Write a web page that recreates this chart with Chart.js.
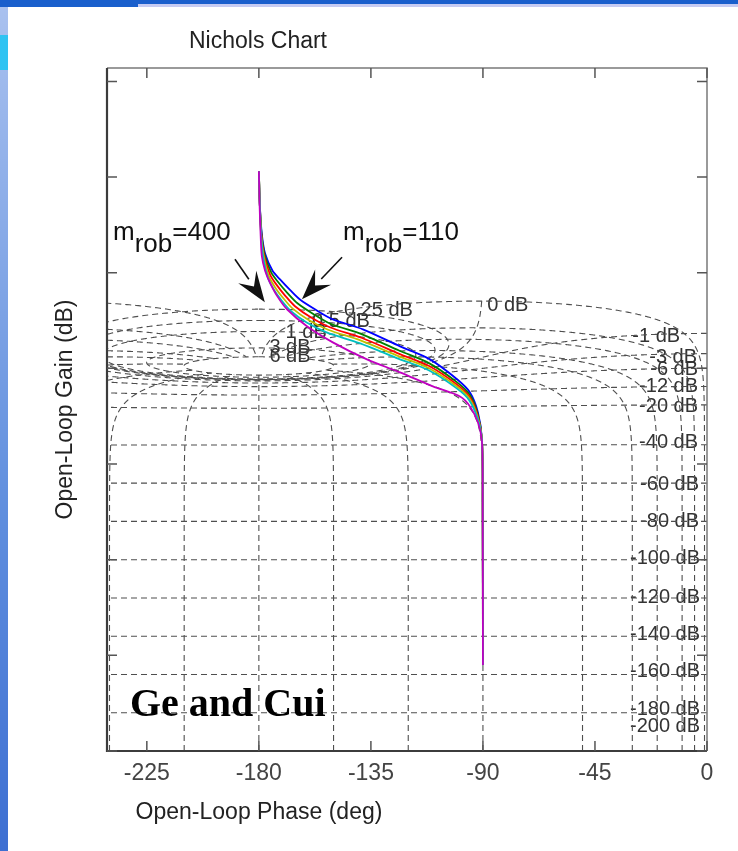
<!DOCTYPE html>
<html>
<head>
<meta charset="utf-8">
<script src="https://cdn.jsdelivr.net/npm/chart.js@4.4.1/dist/chart.umd.min.js"></script>
<style>
  html, body { margin: 0; padding: 0; background: #fff; }
  body { width: 738px; height: 851px; position: relative; overflow: hidden; font-family: "Liberation Sans", Arial, sans-serif; }
  #nichols { position: absolute; left: 0; top: 0; }
  #topbar { position: absolute; left: 0; top: 0; width: 738px; height: 7px; background: linear-gradient(to bottom, #1a5fcc 0, #1a5fcc 4px, #c6cbf2 4px); }
  #topbar-left { position: absolute; left: 0; top: 0; width: 138px; height: 7px; background: #1a5fcc; }
  #leftbar { position: absolute; left: 0; top: 7px; width: 8px; height: 844px; background: linear-gradient(to bottom, #a9c1ef, #5f8ede 60%, #3d6fd2); }
  #leftblock { position: absolute; left: 0; top: 35px; width: 8px; height: 35px; background: #2fc3f2; }
  .txt { position: absolute; white-space: nowrap; color: #222; }
  #title { left: 158px; top: 29px; width: 200px; text-align: center; font-size: 23px; line-height: 23px; }
  #xtitle { left: 109px; top: 800px; width: 300px; text-align: center; font-size: 23px; line-height: 23px; }
  .mrob { font-size: 26px; line-height: 26px; color: #111; top: 218px; }
  .mrob span { position: relative; top: 12px; }
  #credit { left: 130px; top: 683px; font-family: "Liberation Serif", "Times New Roman", serif; font-weight: bold; font-size: 40px; line-height: 40px; color: #000; }
</style>
</head>
<body>
<canvas id="nichols" width="738" height="851"></canvas>
<div id="topbar"></div>
<div id="topbar-left"></div>
<div id="leftbar"></div>
<div id="leftblock"></div>
<div class="txt" id="title">Nichols Chart</div>
<div class="txt" id="xtitle">Open-Loop Phase (deg)</div>
<div class="txt mrob" style="left:113px">m<span>rob</span>=400</div>
<div class="txt mrob" style="left:343px">m<span>rob</span>=110</div>
<div class="txt" id="credit">Ge and Cui</div>

<script>
// axis ticks
const xTicks = [-225, -180, -135, -90, -45, 0];
const yTicks = [-200, -150, -100, -50, 0, 50, 100, 150];

// open-loop responses (phase in deg, gain in dB)
const bluePhase = [-180, -179.6, -178.8, -177.5, -174.5, -171.5, -167.5, -163.5, -157, -150.3, -138.2, -123.3, -111.3, -100.4, -95.2, -92, -90.4, -90.1, -90];
const blueGain  = [103, 85, 70, 60, 51, 46.5, 41, 36, 30.5, 25.6, 20.4, 11.5, 4.7, -5.7, -12.6, -23, -37, -70, -155];
const greenPhase = [-180, -179.6, -178.9, -177.7, -175, -172.2, -168.5, -164.5, -158, -151, -138.5, -123.5, -111.5, -100.5, -95.3, -92.1, -90.4, -90.1, -90];
const greenGain  = [103, 85, 70, 59.5, 50, 45, 39.3, 34, 28.3, 23.2, 17.8, 9.2, 2.6, -7.2, -13.8, -23.8, -37.3, -70, -155];
const redPhase = [-180, -179.6, -179, -177.9, -175.5, -172.8, -169.3, -165.5, -159, -151.5, -138.8, -123.6, -111.6, -100.6, -95.4, -92.1, -90.4, -90.1, -90];
const redGain  = [103, 85, 70, 59, 49, 43.5, 37.8, 32.5, 26.6, 21.5, 16, 7.6, 1.2, -8.3, -14.8, -24.6, -37.5, -70, -155];
const olivePhase = [-180, -179.6, -179.1, -178.1, -176, -173.4, -170, -166.4, -160, -152.2, -139.2, -123.7, -111.7, -100.7, -95.5, -92.2, -90.4, -90.1, -90];
const oliveGain  = [103, 85, 70, 58.8, 48.2, 42.2, 36.4, 31.2, 25.3, 20.2, 14.6, 6.3, 0.1, -9.2, -15.6, -25.3, -37.7, -70, -155];
const cyanPhase = [-180, -179.6, -179.1, -178.3, -176.4, -173.9, -170.7, -167.2, -160.8, -152.8, -139.6, -123.8, -111.8, -100.8, -95.6, -92.2, -90.4, -90.1, -90];
const cyanGain  = [103, 85, 70, 58.6, 47.4, 41, 35.2, 30, 24, 18.8, 13.2, 5, -1, -10.2, -16.5, -26, -37.8, -70, -155];
const magentaPhase = [-180, -179.7, -179.3, -178.8, -177.5, -175.6, -172.5, -168.7, -160.7, -150.3, -136.6, -123.3, -110.1, -99.2, -95.2, -92, -90.4, -90.1, -90];
const magentaGain  = [103, 85, 70, 58.6, 51, 45, 37.5, 30.9, 22, 13.6, 4.7, -2.1, -9.4, -14.7, -19.9, -28.3, -38.2, -70, -155];

// Nichols grid levels (closed-loop gain in dB, closed-loop phase in deg)
const gridGains = [6, 3, 1, 0.5, 0.25, 0, -1, -3, -6, -12, -20, -40, -60, -80, -100, -120, -140, -160, -180, -200];
const gridPhases = [-1, -5, -10, -20, -30, -50, -90, -120, -150, -180, -210, -240, -270, -310, -330, -340, -350, -355, -359];

// grid labels: text, anchor phase, gain, alignment
const labelText  = ['-1 dB', '-3 dB', '-6 dB', '-12 dB', '-20 dB', '-40 dB', '-60 dB', '-80 dB', '-100 dB', '-120 dB', '-140 dB', '-160 dB', '-180 dB', '-200 dB', '0 dB', '0.25 dB', '0.5 dB', '1 dB', '3 dB', '6 dB'];
const labelPhase = [-10.8, -4, -3.6, -3.6, -3.6, -3.6, -3.2, -3.2, -2.8, -2.8, -2.8, -2.8, -2.8, -2.8, -80, -132, -147, -161, -167.5, -167.5];
const labelGain  = [16.8, 5.8, -0.5, -9.4, -19.9, -38.7, -60.7, -80.1, -99.5, -119.9, -139.3, -158.6, -178.5, -187.4, 33, 30.4, 24.6, 18.8, 11, 6.3];
const labelAlign = ['right', 'right', 'right', 'right', 'right', 'right', 'right', 'right', 'right', 'right', 'right', 'right', 'right', 'right', 'center', 'center', 'center', 'center', 'center', 'center'];

// annotation arrows [tail phase, tail gain, tip phase, tip gain]
const arrows = [[-189.6, 57, -177.6, 34.6], [-146.6, 58.1, -162.7, 36.1]];

// closed loop T = |T|e^(j psi)  ->  open loop G = T/(1-T) as Nichols point
function openLoopPoint(magDb, phDeg) {
    const m = Math.pow(10, magDb / 20), a = phDeg * Math.PI / 180;
    const re = m * Math.cos(a), im = m * Math.sin(a);
    const dr = 1 - re, di = -im;
    const d2 = dr * dr + di * di;
    const gr = (re * dr + im * di) / d2, gi = (im * dr - re * di) / d2;
    let ph = Math.atan2(gi, gr) * 180 / Math.PI;
    if (ph > 0) ph -= 360;
    return { x: ph, y: 20 * Math.log10(Math.hypot(gr, gi)) };
}

function gainContour(level) {
    const lo = level === 0 ? -1 : 0, hi = level === 0 ? -359 : -360;
    const pts = [], n = 1500;
    for (let k = 0; k <= n; k++) {
        const u = (1 - Math.cos(Math.PI * k / n)) / 2;
        pts.push(openLoopPoint(level, lo + (hi - lo) * u));
    }
    return pts;
}

const clGains = [];
for (let g = -200; g < -30; g += 1) clGains.push(g);
for (let g = -30; g < -1.5; g += 0.05) clGains.push(g);
for (let g = -1.5; g < 1.5; g += 0.004) clGains.push(g);
for (let g = 1.5; g <= 6.0001; g += 0.05) clGains.push(g);

function phaseContour(level) {
    return clGains.map(g => openLoopPoint(g, level));
}

function toPoints(ph, g) {
    return ph.map((p, i) => ({ x: p, y: g[i] }));
}

// first entry is drawn on top (magenta shows on the shared vertical part)
const curves = [
    { color: '#c000c0', data: toPoints(magentaPhase, magentaGain) },
    { color: '#00bfbf', data: toPoints(cyanPhase, cyanGain) },
    { color: '#bfbf00', data: toPoints(olivePhase, oliveGain) },
    { color: '#ff0000', data: toPoints(redPhase, redGain) },
    { color: '#008000', data: toPoints(greenPhase, greenGain) },
    { color: '#0000ff', data: toPoints(bluePhase, blueGain) }
];

const datasets = [];
curves.forEach(c => {
    datasets.push({ data: c.data, showLine: true, borderColor: c.color, borderWidth: 1.8, pointRadius: 0, tension: 0.3, order: 0 });
});
const gridStyle = { showLine: true, borderColor: '#4f4f4f', borderWidth: 1.1, borderDash: [6, 4], pointRadius: 0, tension: 0, order: 1 };
gridGains.forEach(l => datasets.push(Object.assign({ data: gainContour(l) }, gridStyle)));
gridPhases.forEach(l => datasets.push(Object.assign({ data: phaseContour(l) }, gridStyle)));

// contour labels behind the curves
const labelPlugin = {
    id: 'gridLabels',
    beforeDatasetsDraw(chart) {
        const { ctx, scales: { x, y } } = chart;
        ctx.save();
        ctx.font = '20px "Liberation Sans", Arial, sans-serif';
        ctx.fillStyle = '#333';
        ctx.textBaseline = 'middle';
        labelText.forEach((t, i) => {
            ctx.textAlign = labelAlign[i];
            ctx.fillText(t, x.getPixelForValue(labelPhase[i]), y.getPixelForValue(labelGain[i]));
        });
        ctx.restore();
    }
};

// box, inward ticks and arrows
const framePlugin = {
    id: 'frame',
    afterDatasetsDraw(chart) {
        const { ctx, chartArea: a, scales: { x, y } } = chart;
        ctx.save();
        ctx.strokeStyle = '#7a7a7a';
        ctx.lineWidth = 1.5;
        ctx.beginPath();
        ctx.moveTo(a.left, a.top); ctx.lineTo(a.right, a.top); ctx.lineTo(a.right, a.bottom);
        ctx.stroke();
        ctx.strokeStyle = '#3c3c3c';
        ctx.lineWidth = 2.2;
        ctx.beginPath();
        ctx.moveTo(a.left, a.top); ctx.lineTo(a.left, a.bottom); ctx.lineTo(a.right, a.bottom);
        ctx.stroke();

        ctx.strokeStyle = '#555';
        ctx.lineWidth = 1.5;
        ctx.beginPath();
        xTicks.forEach(v => {
            const px = x.getPixelForValue(v);
            ctx.moveTo(px, a.bottom); ctx.lineTo(px, a.bottom - 10);
            ctx.moveTo(px, a.top); ctx.lineTo(px, a.top + 10);
        });
        yTicks.forEach(v => {
            const py = y.getPixelForValue(v);
            ctx.moveTo(a.left, py); ctx.lineTo(a.left + 10, py);
            ctx.moveTo(a.right, py); ctx.lineTo(a.right - 10, py);
        });
        ctx.stroke();

        ctx.strokeStyle = '#111';
        ctx.fillStyle = '#111';
        ctx.lineWidth = 1.6;
        arrows.forEach(ar => {
            const x0 = x.getPixelForValue(ar[0]), y0 = y.getPixelForValue(ar[1]);
            const x1 = x.getPixelForValue(ar[2]), y1 = y.getPixelForValue(ar[3]);
            const ang = Math.atan2(y1 - y0, x1 - x0);
            const len = 28, hw = 11, notch = 9;
            const bx = x1 - len * Math.cos(ang), by = y1 - len * Math.sin(ang);
            ctx.beginPath();
            ctx.moveTo(x0, y0); ctx.lineTo(bx, by);
            ctx.stroke();
            const nx = -Math.sin(ang), ny = Math.cos(ang);
            ctx.beginPath();
            ctx.moveTo(x1, y1);
            ctx.lineTo(bx + nx * hw - notch * Math.cos(ang) * 0.3, by + ny * hw - notch * Math.sin(ang) * 0.3);
            ctx.lineTo(bx + notch * Math.cos(ang), by + notch * Math.sin(ang));
            ctx.lineTo(bx - nx * hw - notch * Math.cos(ang) * 0.3, by - ny * hw - notch * Math.sin(ang) * 0.3);
            ctx.closePath();
            ctx.fill();
        });
        ctx.restore();
    }
};

const ctx = document.getElementById('nichols').getContext('2d');
const nicholsChart = new Chart(ctx, {
    type: 'scatter',
    data: { datasets: datasets },
    plugins: [labelPlugin, framePlugin],
    options: {
        responsive: false,
        animation: false,
        events: [],
        layout: { padding: { top: 68, right: 31, left: 0, bottom: 0 } },
        plugins: { legend: { display: false }, tooltip: { enabled: false } },
        scales: {
            x: {
                type: 'linear', min: -241, max: 0,
                afterBuildTicks: s => { s.ticks = xTicks.map(v => ({ value: v })); },
                afterFit: s => { s.height = 100; },
                grid: { display: false, drawTicks: false },
                border: { display: false },
                ticks: { padding: 9, color: '#444', maxRotation: 0, autoSkip: false, font: { family: '"Liberation Sans", Arial, sans-serif', size: 23 } }
            },
            y: {
                type: 'linear', min: -200, max: 157,
                afterBuildTicks: s => { s.ticks = yTicks.map(v => ({ value: v })); },
                afterFit: s => { s.width = 107; },
                grid: { display: false, drawTicks: false },
                border: { display: false },
                ticks: { display: false },
                title: { display: true, text: 'Open-Loop Gain (dB)', color: '#222', padding: { top: 52, bottom: 0 }, font: { family: '"Liberation Sans", Arial, sans-serif', size: 23 } }
            }
        }
    }
});
</script>
</body>
</html>
